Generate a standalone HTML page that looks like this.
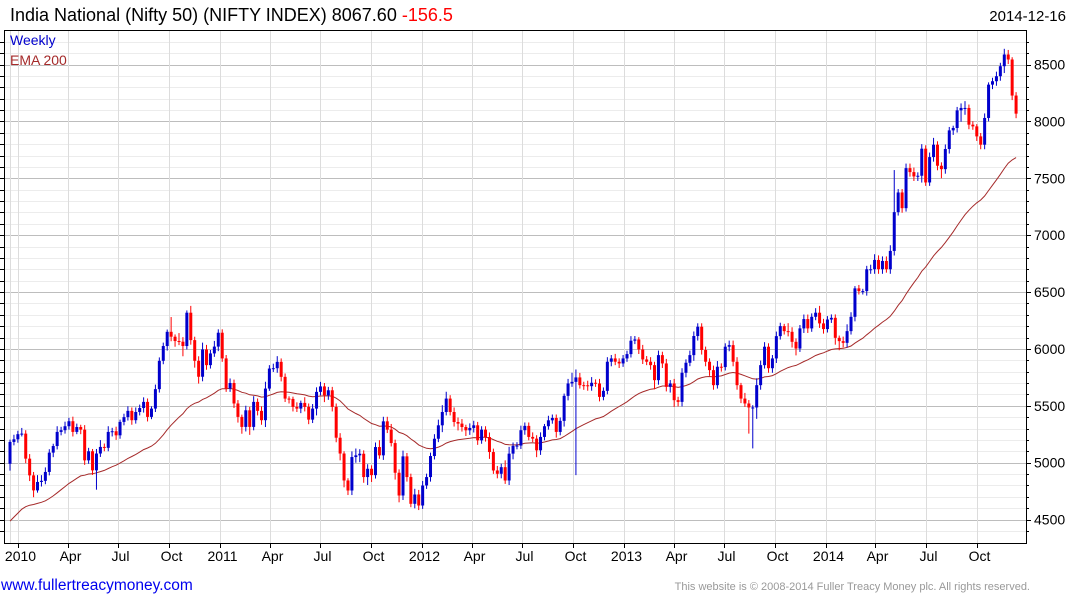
<!DOCTYPE html>
<html><head><meta charset="utf-8"><style>
html,body{margin:0;padding:0;background:#fff;}
body{width:1075px;height:600px;overflow:hidden;font-family:"Liberation Sans",sans-serif;}
svg{display:block;}
</style></head><body>
<svg id="chart" width="1075" height="600" xmlns="http://www.w3.org/2000/svg" font-family="Liberation Sans, sans-serif">
<g id="grid"></g>
<g id="ema"></g>
<g id="candles"></g>
<g id="axes"></g>
<text x="10" y="21" font-size="18" fill="#000">India National (Nifty 50) (NIFTY INDEX) 8067.60 <tspan fill="#ff0000">-156.5</tspan></text>
<text x="1066" y="21" font-size="15" fill="#000" text-anchor="end">2014-12-16</text>
<text x="10" y="45" font-size="14" fill="#0000cc">Weekly</text>
<text x="10" y="65" font-size="14" fill="#a52a2a">EMA 200</text>
<text x="1" y="590" font-size="15.5" fill="#0000ee">www.fullertreacymoney.com</text>
<text x="1030" y="590" font-size="11" fill="#999" text-anchor="end">This website is © 2008-2014 Fuller Treacy Money plc. All rights reserved.</text>
</svg>
<script>
const closes=[5182,5205,5250,5255,5035,4888,4756,4830,4840,4918,
5088,5146,5270,5285,5320,5364,5270,5313,5290,5020,
5100,4932,5080,5138,5130,5270,5276,5240,5358,5400,
5455,5373,5445,5480,5534,5402,5475,5646,5895,6025,
6150,6107,6069,6063,6025,6318,6077,5895,5755,5995,
5857,5960,6020,6142,5916,5652,5700,5520,5402,5314,
5460,5314,5534,5455,5373,5651,5827,5830,5886,5754,
5563,5560,5490,5475,5525,5490,5378,5475,5622,5670,
5592,5636,5490,5219,5080,4843,4755,5049,5064,5078,
4873,4946,4890,5137,5064,5363,5290,5172,4911,4711,
5055,4873,4638,4720,4623,4799,4873,5058,5210,5328,
5445,5563,5445,5357,5343,5313,5284,5305,5328,5196,
5290,5225,5093,4931,4902,4960,4843,5079,5147,5150,
5285,5323,5226,5211,5108,5226,5320,5372,5393,5270,
5367,5587,5696,5710,5749,5681,5680,5672,5702,5696,
5578,5631,5887,5916,5887,5872,5916,5954,6072,6083,
5995,5907,5887,5857,5725,5945,5872,5666,5696,5549,
5534,5790,5878,5945,6113,6195,5990,5887,5813,5681,
5843,5840,6019,6033,5887,5681,5563,5520,5485,5485,
5681,5857,6019,5830,5916,6112,6200,6156,6150,6062,
6003,6180,6262,6180,6282,6318,6224,6174,6258,6273,
6097,6068,6053,6156,6282,6532,6508,6508,6700,6700,
6782,6700,6773,6700,6861,7202,7375,7237,7589,7554,
7516,7522,7760,7463,7686,7795,7610,7580,7757,7921,
7942,8097,8118,8118,7971,7956,7868,7795,8030,8323,
8353,8397,8485,8588,8544,8227,8068];
const firstOpen=4990;
const hiWick=[20,40,30,50,30,40,30,60,50,40, 30,20,50,30,40,30,40,30,20,40, 30,20,40,60,30,50,30,40,20,30,
40,30,40,30,40,30,20,40,30,30, 20,130,20,70,40,20,60,30,40,60, 40,30,50,30,30,30,40,30,30,20,
40,30,50,30,40,60,30,40,50,30, 30,20,20,40,20,50,30,40,40,40, 30,30,30,30,40,20,20,50,60,40,
30,40,30,40,60,40,40,50,30,30, 50,30,30,50,40,40,30,30,40,50, 60,60,30,40,40,40,20,40,40,30,
30,30,40,30,40,30,60,60,30,30, 40,30,30,40,30,40,20,40,30,30, 30,20,40,80,70,40,30,40,50,30,
40,30,40,30,40,30,30,30,40,30, 20,40,30,40,30,40,30,40,30,40, 30,40,30,40,40,30,30,30,30,40,
50,30,30,40,40,40,20,50,30,20, 60,40,40,30,30,40,30,20,70,40, 30,30,40,40,30,40,60,40,30,30,
30,20,40,60,40,20,30,20,30,40, 50,40,40,40,50,370,30,30,40,40, 40,30,40,30,40,60,30,30,40,30,
20,30,40,60,30,30,20,30,40,20, 30,40,30,50,40,20,30,40,30,60, 30,30,20,30,30,60,60];
const loWick=[60,30,30,20,40,50,60,20,40,30, 30,40,30,30,30,30,40,20,40,40, 30,40,170,30,30,30,40,40,30,30,
30,40,30,30,40,40,20,30,30,30, 40,40,50,30,90,30,40,60,60,40, 40,30,30,40,30,30,30,40,50,60,
40,70,30,40,40,60,20,30,40,40, 30,40,40,30,40,40,40,30,60,30, 60,40,40,40,60,60,40,40,50,60,
50,70,60,30,30,40,30,30,60,60, 40,40,30,40,40,30,30,40,30,30, 60,30,30,40,60,40,50,40,40,40,
30,40,60,30,40,40,30,40,50,30, 30,40,30,30,60,40,30,30,30,50, 30,50,40,30,820,30,40,40,40,30,
40,30,30,40,30,40,30,30,30,30, 40,40,30,40,80,40,40,40,50,60, 40,40,40,30,50,40,40,40,50,40,
30,40,30,40,40,40,40,30,230,360, 100,40,30,40,40,40,30,30,40,50, 60,30,40,40,30,30,40,40,30,30,
60,80,40,40,30,40,30,30,40,40, 40,40,40,30,40,40,30,40,30,40, 40,40,60,30,30,40,40,80,40,40,
40,40,100,60,40,30,40,40,40,30, 40,40,40,60,40,40,40,80,40,40, 40,40,40,40,40,40,20];
const yTicks=[4500,5000,5500,6000,6500,7000,7500,8000,8500];
const xTickLabels=["2010","Apr","Jul","Oct","2011","Apr","Jul","Oct","2012","Apr","Jul","Oct","2013","Apr","Jul","Oct","2014","Apr","Jul","Oct"];
const xTickDates=["2010-01-01","2010-04-01","2010-07-01","2010-10-01","2011-01-01","2011-04-01","2011-07-01","2011-10-01","2012-01-01","2012-04-01","2012-07-01","2012-10-01","2013-01-01","2013-04-01","2013-07-01","2013-10-01","2014-01-01","2014-04-01","2014-07-01","2014-10-01"];
const emaPeriod=40, emaSeed=4450;

const NS="http://www.w3.org/2000/svg";
const L=4,R=1026,T=30,B=543;
function yS(v){return 64.5+(8500-v)*0.11375;}
function xI(i){return 10+i*3.93;}
function xD(d){const t0=Date.UTC(2010,0,1);const p=d.split('-');const t=Date.UTC(+p[0],+p[1]-1,+p[2]);return 18+(t-t0)/86400000*0.5528;}
function mk(tag,attrs,parent){const e=document.createElementNS(NS,tag);for(const k in attrs)e.setAttribute(k,attrs[k]);parent.appendChild(e);return e;}
const grid=document.getElementById('grid'),axes=document.getElementById('axes'),cg=document.getElementById('candles'),eg=document.getElementById('ema');
for(let v=4400;v<=8700;v+=100){const y=Math.round(yS(v))+0.5;if(y<T||y>B)continue;
 const major=v%500===0;
 const ln=mk('line',{x1:L,x2:R,y1:y,y2:y,stroke:major?'#bdbdbd':'#ececec','stroke-width':1},grid);
 
 
 const t1=mk('line',{x1:R,x2:R+(major?5:3),y1:y,y2:y,stroke:'#000'},axes);
 
 
 const t2=mk('line',{x1:0,x2:L,y1:y,y2:y,stroke:'#000'},axes);
 
 
}
yTicks.forEach(v=>{const t=mk('text',{x:1034,y:yS(v)+5,'font-size':14,fill:'#000'},axes);t.textContent=v;
 
 });
const vl0=mk('line',{x1:10.5,x2:10.5,y1:T,y2:B,stroke:'#dcdcdc'},grid);


xTickDates.forEach((d,k)=>{const x=Math.round(xD(d))+0.5;
 const ln=mk('line',{x1:x,x2:x,y1:T,y2:B,stroke:'#dcdcdc'},grid);
 
 
 const tk=mk('line',{x1:x,x2:x,y1:B,y2:B+5,stroke:'#000'},axes);
 
 
 const t=mk('text',{x:x+2,y:561,'font-size':14,fill:'#000','text-anchor':'middle'},axes);t.textContent=xTickLabels[k];
 
 
});
const bx=mk('rect',{x:L+0.5,y:T+0.5,width:R-L,height:B-T,fill:'none',stroke:'#000'},axes);


let e=emaSeed,pts=[];const a=2/(emaPeriod+1);
closes.forEach((c,i)=>{e=e+a*(c-e);pts.push(xI(i).toFixed(1)+','+yS(e).toFixed(1));});
const pl=mk('polyline',{points:pts.join(' '),fill:'none',stroke:'#a52a2a','stroke-width':1},eg);


closes.forEach((c,i)=>{const o=i===0?firstOpen:closes[i-1];const up=c>=o;const col=up?'#0000cc':'#ff0000';
 const hi=Math.max(o,c)+hiWick[i],lo=Math.min(o,c)-loWick[i];const x=xI(i);
 const g=mk('g',{},cg);
 
 
 mk('line',{x1:x,x2:x,y1:yS(hi),y2:yS(lo),stroke:col,'stroke-width':1},g);
 const yt=yS(Math.max(o,c)),yb=yS(Math.min(o,c));
 mk('rect',{x:x-1.5,y:yt,width:3,height:Math.max(1,yb-yt),fill:col},g);
});
</script>
</body></html>
